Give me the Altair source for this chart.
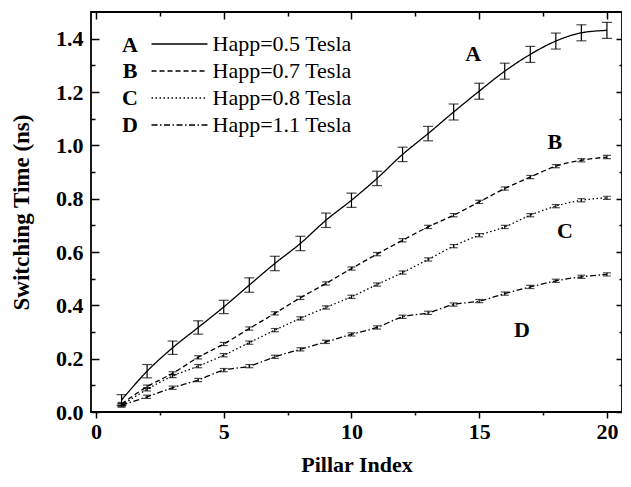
import altair as alt
import pandas as pd

pillar = list(range(1, 21))
series_names = ["Happ=0.5 Tesla", "Happ=0.7 Tesla", "Happ=0.8 Tesla", "Happ=1.1 Tesla"]

curve_a = [0.045, 0.153, 0.241, 0.317, 0.394, 0.476, 0.557, 0.632, 0.719, 0.794,
           0.876, 0.966, 1.044, 1.125, 1.203, 1.278, 1.341, 1.391, 1.422, 1.431]
curve_b = [0.030, 0.095, 0.145, 0.205, 0.255, 0.313, 0.370, 0.428, 0.482, 0.538,
           0.592, 0.644, 0.694, 0.738, 0.788, 0.838, 0.881, 0.922, 0.944, 0.956]
curve_c = [0.025, 0.085, 0.135, 0.172, 0.213, 0.260, 0.307, 0.351, 0.392, 0.432,
           0.478, 0.523, 0.572, 0.622, 0.663, 0.694, 0.738, 0.772, 0.794, 0.803]
curve_d = [0.025, 0.057, 0.091, 0.120, 0.157, 0.172, 0.207, 0.235, 0.263, 0.291,
           0.317, 0.357, 0.372, 0.403, 0.416, 0.444, 0.469, 0.492, 0.507, 0.516]

err_a = [0.020, 0.025, 0.025, 0.025, 0.025, 0.027, 0.027, 0.027, 0.027, 0.027,
         0.027, 0.027, 0.027, 0.030, 0.030, 0.030, 0.030, 0.030, 0.030, 0.030]
err_b = [0.006] * 20
err_c = [0.006] * 20
err_d = [0.006] * 20
cap_widths = [10, 8, 8, 8]

label_letters = ["A", "B", "C", "D", "A", "B", "C", "D"]
label_x = [14.76, 17.96, 18.36, 16.67, 1.33, 1.33, 1.33, 1.33]
label_y = [1.341, 1.011, 0.677, 0.309, 1.376, 1.277, 1.176, 1.078]

x_ticks = [0, 2.5, 5, 7.5, 10, 12.5, 15, 17.5, 20]
y_ticks = [0.0, 0.1, 0.2, 0.3, 0.4, 0.5, 0.6, 0.7, 0.8, 0.9, 1.0, 1.1, 1.2, 1.3, 1.4]

rows = []
for name, vals, errs, cw in zip(series_names, [curve_a, curve_b, curve_c, curve_d],
                                [err_a, err_b, err_c, err_d], cap_widths):
    for x, v, e in zip(pillar, vals, errs):
        rows.append({"pillar": x, "time": v, "lo": v - e, "hi": v + e,
                     "series": name, "capw": cw})
df = pd.DataFrame(rows)
labels_df = pd.DataFrame({"letter": label_letters, "x": label_x, "y": label_y})

FONT = "Liberation Serif"
FS = 22
W, H = 531, 400
xscale = alt.Scale(domain=[-0.196, 20.59], nice=False, zero=False)
yscale = alt.Scale(domain=[0, 1.5], nice=False)

major_x = "datum.value % 5 === 0"
major_y = "round(datum.value * 10) % 2 === 0"

base = alt.Chart(df)

lines = base.mark_line(color="black", strokeWidth=1.3, interpolate="monotone").encode(
    x=alt.X("pillar:Q", scale=xscale,
            axis=alt.Axis(orient="bottom", values=x_ticks, grid=False, domain=False,
                          labelExpr=f"{major_x} ? datum.label : ''",
                          tickSize={"condition": {"test": major_x, "value": 6}, "value": 3},
                          tickColor="black", tickWidth=1.5,
                          labelFont=FONT, labelFontSize=FS, labelFontWeight="bold",
                          labelColor="black", labelPadding=3,
                          title="Pillar Index", titleFont=FONT, titleFontSize=FS,
                          titleFontWeight="bold", titleColor="black", titlePadding=12)),
    y=alt.Y("time:Q", scale=yscale,
            axis=alt.Axis(orient="left", values=y_ticks, grid=False, domain=False, ticks=False,
                          labelExpr=f"{major_y} ? format(datum.value, '.1f') : ''",
                          labelFont=FONT, labelFontSize=FS, labelFontWeight="bold",
                          labelColor="black", labelPadding=8,
                          title="Switching Time (ns)", titleFont=FONT, titleFontSize=23,
                          titleFontWeight="bold", titleColor="black", titlePadding=22)),
    strokeDash=alt.StrokeDash(
        "series:N",
        scale=alt.Scale(domain=series_names,
                        range=[[1, 0], [5, 3], [1.5, 2.5], [6, 2.5, 1.5, 2.5]]),
        legend=alt.Legend(title=None, orient="none", legendX=77.5, legendY=21,
                          symbolType="M-3,0H3", symbolSize=348, symbolStrokeWidth=1.3,
                          symbolStrokeColor="black", symbolFillColor="transparent",
                          labelFont=FONT, labelFontSize=FS,
                          labelColor="black", labelOffset=22, rowPadding=5, padding=0)),
)

bars = base.mark_rule(color="black", strokeWidth=1.2).encode(
    x=alt.X("pillar:Q", scale=xscale,
            axis=alt.Axis(orient="bottom", offset=-H, values=x_ticks, grid=False,
                          domain=False, labels=False, title=None,
                          tickSize={"condition": {"test": major_x, "value": 7}, "value": 4},
                          tickColor="black", tickWidth=1.5)),
    y=alt.Y("lo:Q", scale=yscale,
            axis=alt.Axis(orient="right", offset=-W, values=y_ticks, grid=False,
                          domain=False, labels=False, title=None,
                          tickSize={"condition": {"test": major_y, "value": 8}, "value": 4},
                          tickColor="black", tickWidth=1.5)),
    y2="hi:Q",
)

caps = base.transform_fold(["lo", "hi"], as_=["end", "yv"]).mark_tick(
    color="black", thickness=1.2, orient="horizontal").encode(
    x=alt.X("pillar:Q", scale=xscale, axis=None),
    y=alt.Y("yv:Q", scale=yscale,
            axis=alt.Axis(orient="left", offset=-W, values=y_ticks, grid=False,
                          domain=False, labels=False, title=None,
                          tickSize={"condition": {"test": major_y, "value": 6}, "value": 3},
                          tickColor="black", tickWidth=1.5)),
    size=alt.Size("capw:Q", scale=None, legend=None),
)

texts = alt.Chart(labels_df).mark_text(font=FONT, fontSize=FS, fontWeight="bold",
                                        color="black", baseline="middle", align="center"
                                        ).encode(
    x=alt.X("x:Q", scale=xscale, axis=None),
    y=alt.Y("y:Q", scale=yscale, axis=None),
    text="letter:N",
)

chart = alt.layer(lines, bars, caps, texts).resolve_axis(
    x="independent", y="independent"
).properties(
    width=W, height=H,
    padding={"left": 83, "top": 4, "right": 0, "bottom": 66},
    autosize=alt.AutoSizeParams(type="none"),
    background="white",
).configure_view(stroke="black", strokeWidth=1.8)

chart.save("out.html", embed_options={"renderer": "svg", "actions": False})
